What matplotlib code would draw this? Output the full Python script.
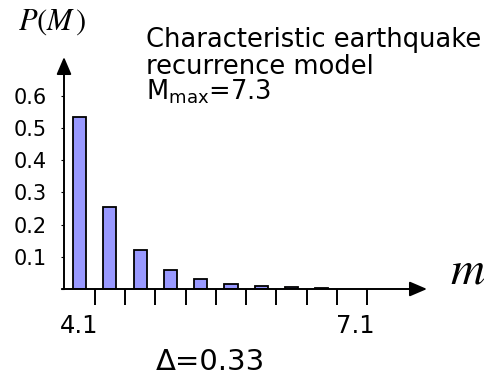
import matplotlib
matplotlib.use("Agg")
import matplotlib.pyplot as plt
import numpy as np

# magnitude bins (centres) and probabilities
DELTA = 0.33
m_centres = [4.1, 4.43, 4.76, 5.09, 5.42, 5.75, 6.08, 6.41, 6.74]
p_values = [0.534, 0.255, 0.121, 0.059, 0.031, 0.015, 0.008, 0.005, 0.004]
bin_edges = [4.265, 4.595, 4.925, 5.255, 5.585, 5.915, 6.245, 6.575, 6.905, 7.235]
x_labels = [4.1, 7.1]
y_ticks = [0.0, 0.1, 0.2, 0.3, 0.4, 0.5, 0.6]
y_labels = ["", "0.1", "0.2", "0.3", "0.4", "0.5", "0.6"]

W, H = 485, 377
fig = plt.figure(figsize=(W / 100, H / 100), dpi=100)
ax = fig.add_axes([64 / W, 1 - 289 / H, 363 / W, 232 / H])
ax.set_xlim(3.931, 7.885)
ax.set_ylim(0, 0.72)

ax.bar(m_centres, p_values, width=0.142, color="#9999ff",
       edgecolor="black", linewidth=1.3, zorder=2)

for s in ax.spines.values():
    s.set_visible(False)

# axes drawn as arrows
arrow = dict(arrowstyle="-|>,head_length=1.05,head_width=0.45",
             color="black", lw=1.4, shrinkA=0, shrinkB=0,
             mutation_scale=10)
ax.annotate("", xy=(1, 0), xytext=(-0.006, 0), xycoords="axes fraction",
            arrowprops=arrow, annotation_clip=False)
ax.annotate("", xy=(0, 1), xytext=(0, 0), xycoords="axes fraction",
            arrowprops=arrow, annotation_clip=False)

# x ticks: bin edges (no labels) and two labelled magnitudes
ax.set_xticks(bin_edges)
ax.set_xticklabels([])
ax.tick_params(axis="x", which="major", direction="out", length=11.5,
               width=1.4, bottom=True)
ax.set_xticks(x_labels, minor=True)
ax.set_xticklabels([f"{v:.1f}" for v in x_labels], minor=True)
ax.tick_params(axis="x", which="minor", length=0, pad=18, labelsize=17.5)

ax.set_yticks(y_ticks)
ax.set_yticklabels(y_labels)
ax.tick_params(axis="y", direction="out", length=2.5, width=0.8,
               pad=10, labelsize=15)

# labels
fig.text(52 / W, 1 - 30 / H, r"$P(M\,)$", fontsize=22, ha="center",
         va="baseline", math_fontfamily="stix")
fig.text(450 / W, 1 - 283 / H, r"$m$", fontsize=34, ha="left",
         va="baseline", math_fontfamily="stix")

fig.text(146 / W, 1 - 47 / H, "Characteristic earthquake", fontsize=18.5,
         va="baseline")
fig.text(146 / W, 1 - 73.5 / H, "recurrence model", fontsize=18.5,
         va="baseline")
fig.text(146 / W, 1 - 100 / H, r"M$_{\rm max}$=7.3", fontsize=18.5,
         va="baseline")

fig.text(210 / W, 1 - 370 / H, "\u0394=0.33", fontsize=21, ha="center",
         va="baseline")

fig.savefig("out.png", dpi=100)
